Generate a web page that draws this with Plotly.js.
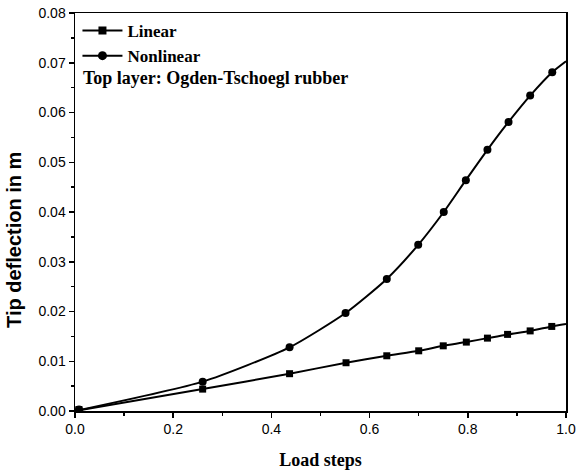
<!DOCTYPE html>
<html>
<head>
<meta charset="utf-8">
<script src="https://cdn.plot.ly/plotly-3.0.1.min.js"></script>
<style>html,body{margin:0;padding:0;background:#fff;}#chart{width:578px;height:473px;}</style>
</head>
<body>
<div id="chart"></div>
<script>
// Sample points (markers)
const linearX = [0.008, 0.260, 0.437, 0.552, 0.635, 0.700, 0.750, 0.797, 0.840, 0.881, 0.927, 0.971];
const linearY = [0.0003, 0.0044, 0.0075, 0.0097, 0.0111, 0.0121, 0.0131, 0.01385, 0.01465, 0.0154, 0.0161, 0.0170];
const nonlinearX = [0.008, 0.260, 0.437, 0.551, 0.635, 0.699, 0.751, 0.796, 0.840, 0.883, 0.927, 0.972];
const nonlinearY = [0.0003, 0.0059, 0.0128, 0.0197, 0.02655, 0.0334, 0.0400, 0.0464, 0.0525, 0.0581, 0.0634, 0.0681];
// Curve endpoints (no markers)
const startPoint = [0, 0];
const linearEnd = [1.0, 0.0175];
const nonlinearEnd = [1.0, 0.0703];
const seriesNames = ["Linear", "Nonlinear"];
const xTicks = [0, 0.2, 0.4, 0.6, 0.8, 1.0];
const yTicks = [0, 0.01, 0.02, 0.03, 0.04, 0.05, 0.06, 0.07, 0.08];

function curve(xs, ys, end) {
  return {
    x: [startPoint[0]].concat(xs.slice(1), [end[0]]),
    y: [startPoint[1]].concat(ys.slice(1), [end[1]])
  };
}
const lc = curve(linearX, linearY, linearEnd);
const nc = curve(nonlinearX, nonlinearY, nonlinearEnd);

const traces = [
  {x: lc.x, y: lc.y, mode: 'lines', line: {color: '#000', width: 2, shape: 'spline', smoothing: 0.6}, showlegend: false, hoverinfo: 'skip'},
  {x: nc.x, y: nc.y, mode: 'lines', line: {color: '#000', width: 2, shape: 'spline', smoothing: 0.6}, showlegend: false, hoverinfo: 'skip'},
  {x: linearX, y: linearY, mode: 'markers', marker: {symbol: 'square', size: 7, color: '#000'}, showlegend: false},
  {x: nonlinearX, y: nonlinearY, mode: 'markers', marker: {symbol: 'circle', size: 8, color: '#000'}, showlegend: false},
  {x: [null], y: [null], name: seriesNames[0], mode: 'lines+markers', line: {color: '#000', width: 2}, marker: {symbol: 'square', size: 8, color: '#000'}},
  {x: [null], y: [null], name: seriesNames[1], mode: 'lines+markers', line: {color: '#000', width: 2}, marker: {symbol: 'circle', size: 9, color: '#000'}}
];

const axisCommon = {
  showgrid: false, zeroline: false, showline: true, linecolor: '#000', linewidth: 1.5, mirror: true,
  ticks: 'outside', ticklen: 5, tickwidth: 1.5, tickcolor: '#000',
  tickfont: {family: 'Arial, Liberation Sans, sans-serif', size: 14, color: '#000'},
  minor: {ticks: 'outside', ticklen: 3, tickwidth: 1.5, tickcolor: '#000'}
};

const serif = 'Liberation Serif, Times New Roman, serif';
const layout = {
  width: 578, height: 473,
  margin: {l: 75, r: 12, t: 13, b: 62},
  paper_bgcolor: '#fff', plot_bgcolor: '#fff',
  xaxis: Object.assign({}, axisCommon, {
    range: [0, 1.0], tickvals: xTicks, ticktext: xTicks.map(v => v.toFixed(1)),
    minor: Object.assign({}, axisCommon.minor, {dtick: 0.1, tick0: 0}),
    title: {text: 'Load steps', font: {family: serif, size: 18, color: '#000', weight: 'bold'}, standoff: 17}
  }),
  yaxis: Object.assign({}, axisCommon, {
    range: [0, 0.08], tickvals: yTicks, ticktext: yTicks.map(v => v.toFixed(2)),
    minor: Object.assign({}, axisCommon.minor, {dtick: 0.005, tick0: 0})
  }),
  legend: {
    x: 0.005, y: 1.0, xanchor: 'left', yanchor: 'top', bgcolor: 'rgba(0,0,0,0)',
    font: {family: serif, size: 17, color: '#000', weight: 'bold'},
    tracegroupgap: 0, itemwidth: 40
  },
  annotations: [{
    text: 'Top layer: Ogden-Tschoegl rubber', xref: 'paper', yref: 'paper', x: 0.013, y: 0.836,
    xanchor: 'left', yanchor: 'middle', showarrow: false,
    font: {family: serif, size: 18, color: '#000', weight: 'bold'}
  }, {
    text: 'Tip deflection in m', xref: 'paper', yref: 'paper', x: -0.124, y: 0.43,
    xanchor: 'center', yanchor: 'middle', textangle: -90, showarrow: false,
    font: {family: 'Arial, Liberation Sans, sans-serif', size: 20, color: '#000', weight: 'bold'}
  }],
  showlegend: true
};

Plotly.newPlot('chart', traces, layout, {displayModeBar: false, staticPlot: true});
</script>
</body>
</html>
